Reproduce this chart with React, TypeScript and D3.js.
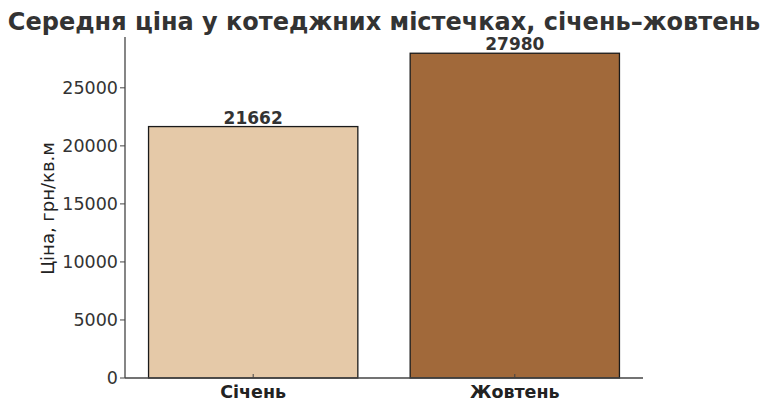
import { useEffect, useRef } from "react";
import * as d3 from "d3";

const categories = ["Січень", "Жовтень"];
const values = [21662, 27980];
const barColors = ["#e5c9a8", "#a1693a"];
const yTicks = [0, 5000, 10000, 15000, 20000, 25000];

const title = "Середня ціна у котеджних містечках, січень–жовтень";
const yLabel = "Ціна, грн/кв.м";

export default function App() {
  const svgRef = useRef<SVGSVGElement>(null);
  const width = 768;
  const height = 411;

  useEffect(() => {
    if (!svgRef.current) return;
    const svg = d3.select(svgRef.current);
    svg.selectAll("*").remove();

    const font = "'DejaVu Sans', sans-serif";
    const left = 125;
    const right = 643;
    const top = 37;
    const bottom = 378;

    const maxV = d3.max(values) || 0;

    // bar positions in "index" units like matplotlib, with 5% margins
    const x = d3
      .scaleLinear()
      .domain([-0.49, categories.length - 1 + 0.49])
      .range([left, right]);

    const y = d3
      .scaleLinear()
      .domain([0, maxV * 1.05])
      .range([bottom, top]);

    const barW = 0.8;

    // bars
    svg
      .append("g")
      .selectAll("rect")
      .data(values)
      .join("rect")
      .attr("x", (_, i) => x(i - barW / 2))
      .attr("y", (d) => y(d))
      .attr("width", x(barW) - x(0))
      .attr("height", (d) => y(0) - y(d))
      .attr("fill", (_, i) => barColors[i])
      .attr("stroke", "#1a1a1a")
      .attr("stroke-width", 1.3);

    // value labels
    svg
      .append("g")
      .selectAll("text")
      .data(values)
      .join("text")
      .attr("x", (_, i) => x(i))
      .attr("y", (d) => y(d) - 3)
      .attr("text-anchor", "middle")
      .attr("font-family", font)
      .attr("font-weight", "bold")
      .attr("font-size", 17)
      .attr("fill", "#333")
      .text((d) => String(d));

    // spines
    svg
      .append("line")
      .attr("x1", left)
      .attr("x2", left)
      .attr("y1", top)
      .attr("y2", bottom)
      .attr("stroke", "#444")
      .attr("stroke-width", 1.3);
    svg
      .append("line")
      .attr("x1", left)
      .attr("x2", right)
      .attr("y1", bottom)
      .attr("y2", bottom)
      .attr("stroke", "#444")
      .attr("stroke-width", 1.3);

    // y ticks
    const yt = svg.append("g");
    yTicks.forEach((t) => {
      yt.append("line")
        .attr("x1", left - 5)
        .attr("x2", left)
        .attr("y1", y(t))
        .attr("y2", y(t))
        .attr("stroke", "#444")
        .attr("stroke-width", 1);
      yt.append("text")
        .attr("x", left - 7)
        .attr("y", y(t))
        .attr("dy", "0.35em")
        .attr("text-anchor", "end")
        .attr("font-family", font)
        .attr("font-size", 17.5)
        .attr("fill", "#333")
        .text(String(t));
    });

    // x ticks (inward) and labels
    const xt = svg.append("g");
    categories.forEach((c, i) => {
      xt.append("line")
        .attr("x1", x(i))
        .attr("x2", x(i))
        .attr("y1", bottom)
        .attr("y2", bottom - 4)
        .attr("stroke", "#444")
        .attr("stroke-width", 1);
      xt.append("text")
        .attr("x", x(i))
        .attr("y", bottom + 20)
        .attr("text-anchor", "middle")
        .attr("font-family", font)
        .attr("font-weight", "bold")
        .attr("font-size", 17.5)
        .attr("fill", "#222")
        .text(c);
    });

    // y label
    svg
      .append("text")
      .attr("transform", `translate(54,${(top + bottom) / 2 + 1}) rotate(-90)`)
      .attr("text-anchor", "middle")
      .attr("font-family", font)
      .attr("font-size", 18)
      .attr("fill", "#222")
      .text(yLabel);

    // title
    svg
      .append("text")
      .attr("x", 384)
      .attr("y", 30)
      .attr("text-anchor", "middle")
      .attr("font-family", font)
      .attr("font-weight", "bold")
      .attr("font-size", 24)
      .attr("fill", "#333")
      .text(title);
  }, []);

  return (
    <svg
      ref={svgRef}
      width={width}
      height={height}
      style={{ position: "absolute", left: 0, top: 0, background: "#fff" }}
    />
  );
}
